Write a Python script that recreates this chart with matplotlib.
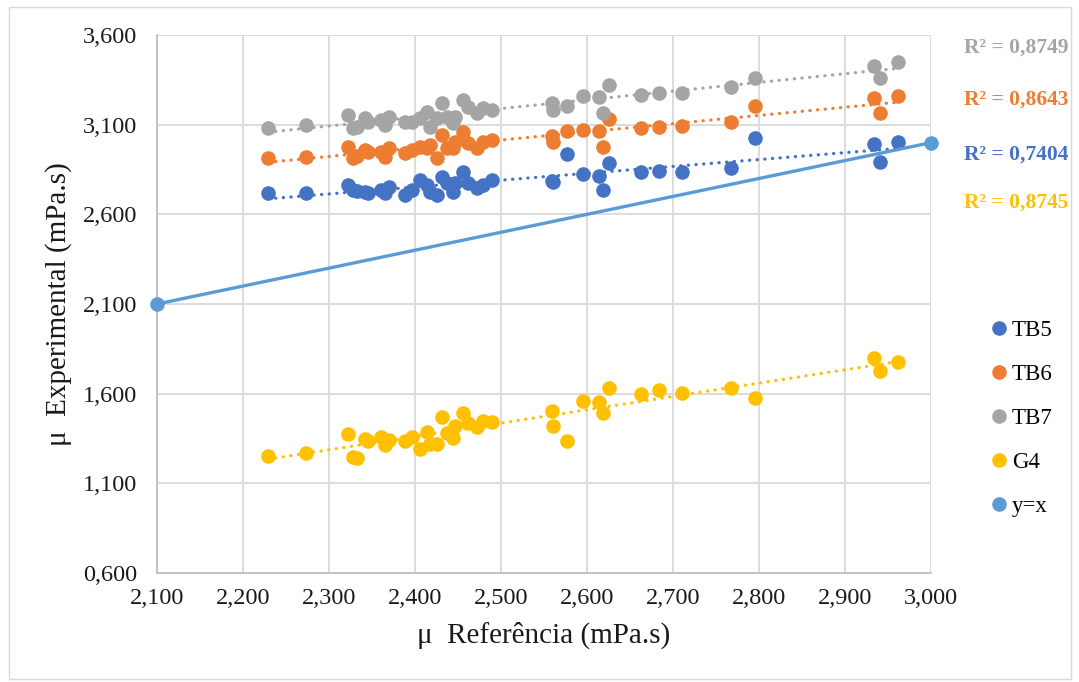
import numpy as np
import matplotlib
matplotlib.use("Agg")
import matplotlib.pyplot as plt
from matplotlib.lines import Line2D
from matplotlib.patches import Rectangle
from matplotlib.ticker import FuncFormatter, FixedLocator

# Reference viscosity (mPa.s), shared by all samples
ref = [2.229, 2.273, 2.322, 2.328, 2.333, 2.342, 2.345, 2.360, 2.365, 2.370,
       2.388, 2.397, 2.406, 2.414, 2.417, 2.426, 2.431, 2.437, 2.444, 2.447,
       2.456, 2.462, 2.472, 2.479, 2.490, 2.559, 2.560, 2.577, 2.595, 2.614,
       2.619, 2.626, 2.663, 2.684, 2.710, 2.767, 2.795, 2.934, 2.940, 2.962]

# Measured viscosity (mPa.s) per sample
tb5 = [2.719, 2.719, 2.763, 2.736, 2.730, 2.724, 2.719, 2.736, 2.719, 2.752,
       2.708, 2.736, 2.791, 2.763, 2.724, 2.708, 2.808, 2.775, 2.724, 2.775,
       2.836, 2.775, 2.747, 2.763, 2.791, 2.786, 2.780, 2.936, 2.825, 2.814,
       2.736, 2.886, 2.836, 2.842, 2.836, 2.858, 3.026, 2.992, 2.892, 3.003]
tb6 = [2.914, 2.920, 2.975, 2.914, 2.925, 2.959, 2.948, 2.948, 2.920, 2.970,
       2.942, 2.959, 2.975, 2.970, 2.987, 2.914, 3.042, 2.970, 2.970, 3.003,
       3.059, 2.998, 2.970, 3.003, 3.014, 3.037, 3.003, 3.065, 3.070, 3.065,
       2.975, 3.132, 3.081, 3.087, 3.092, 3.115, 3.204, 3.249, 3.165, 3.260]
tb7 = [3.081, 3.098, 3.154, 3.081, 3.087, 3.137, 3.115, 3.126, 3.098, 3.143,
       3.115, 3.115, 3.137, 3.171, 3.087, 3.137, 3.221, 3.143, 3.109, 3.143,
       3.237, 3.198, 3.165, 3.193, 3.182, 3.221, 3.182, 3.204, 3.260, 3.254,
       3.165, 3.321, 3.265, 3.277, 3.277, 3.310, 3.360, 3.427, 3.360, 3.449]
g4 = [1.252, 1.269, 1.375, 1.247, 1.241, 1.347, 1.336, 1.358, 1.313, 1.341,
      1.336, 1.358, 1.291, 1.386, 1.319, 1.319, 1.470, 1.380, 1.353, 1.419,
      1.492, 1.436, 1.414, 1.447, 1.442, 1.503, 1.419, 1.336, 1.559, 1.553,
      1.492, 1.631, 1.598, 1.620, 1.603, 1.631, 1.576, 1.799, 1.726, 1.776]

identity = [2.1, 3.0]

x_ticks = [2.1, 2.2, 2.3, 2.4, 2.5, 2.6, 2.7, 2.8, 2.9, 3.0]
y_ticks = [0.6, 1.1, 1.6, 2.1, 2.6, 3.1, 3.6]

series_names = ["TB5", "TB6", "TB7", "G4"]
series_values = [tb5, tb6, tb7, g4]
series_colors = ["#4472C4", "#ED7D31", "#A5A5A5", "#FFC000"]
identity_color = "#5B9BD5"
r2_labels = ["R² = 0,7404", "R² = 0,8643", "R² = 0,8749", "R² = 0,8745"]

serif = ["Liberation Serif", "DejaVu Serif"]
plt.rcParams["font.family"] = serif

fig = plt.figure(figsize=(10.79, 6.82), dpi=100)
fig.patches.append(Rectangle((0.008, 0.005), 0.985, 0.985, transform=fig.transFigure,
                             fill=False, edgecolor="#D9D9D9", linewidth=1.0))

ax = fig.add_axes([0.1455, 0.1598, 0.7175, 0.7889])

x = np.array(ref)
ms = 10.5
for name, vals, col in zip(series_names, series_values, series_colors):
    y = np.array(vals)
    ax.plot(x, y, linestyle="none", marker="o", markersize=ms, color=col,
            markeredgewidth=0, zorder=3, label=name)
    k, b = np.polyfit(x, y, 1)
    xs = np.array([x.min(), x.max()])
    ax.plot(xs, k * xs + b, color=col, linewidth=2.3, linestyle=(0, (0.1, 2.3)),
            dash_capstyle="round", zorder=4)

ax.plot(identity, identity, color=identity_color, linewidth=2.4, marker="o",
        markersize=ms, markeredgewidth=0, zorder=5, label="y=x", clip_on=False)

ax.set_xlim(2.1, 3.0)
ax.set_ylim(0.6, 3.6)
ax.xaxis.set_major_locator(FixedLocator(x_ticks))
ax.yaxis.set_major_locator(FixedLocator(y_ticks))
fmt = FuncFormatter(lambda v, p: f"{v:.3f}".replace(".", ","))
ax.xaxis.set_major_formatter(fmt)
ax.yaxis.set_major_formatter(fmt)
ax.grid(True, color="#D9D9D9", linewidth=1.3, zorder=0)
ax.set_axisbelow(True)
for s in ["top", "right"]:
    ax.spines[s].set_visible(False)
for s in ["left", "bottom"]:
    ax.spines[s].set_color("#BFBFBF")
    ax.spines[s].set_linewidth(1.3)
ax.tick_params(axis="both", length=0, labelsize=17.5, colors="#1a1a1a")
ax.tick_params(axis="x", pad=11)
ax.tick_params(axis="y", pad=14)

ax.set_xlabel("μ  Referência (mPa.s)", fontsize=21, color="#1a1a1a", labelpad=9)
ax.set_ylabel("μ  Experimental (mPa.s)", fontsize=21, color="#1a1a1a", labelpad=8)

# Coefficients of determination for each trendline
r2_pos = [155, 100, 48, 203]
for lab, col, py in zip(r2_labels, series_colors, r2_pos):
    fig.text(1016 / 1079, 1 - py / 682, lab, color=col, fontsize=15.5,
             fontweight="bold", ha="center", va="center")

handles = [Line2D([], [], linestyle="none", marker="o", markersize=ms,
                  markeredgewidth=0, color=c) for c in series_colors + [identity_color]]
labels = series_names + ["y=x"]
fig.legend(handles, labels, loc="upper left", bbox_to_anchor=(0.905, 0.547),
           frameon=False, fontsize=16.5, labelspacing=1.0, handletextpad=0.05,
           handlelength=1.0, borderpad=0)

fig.savefig("out.png", dpi=100)
